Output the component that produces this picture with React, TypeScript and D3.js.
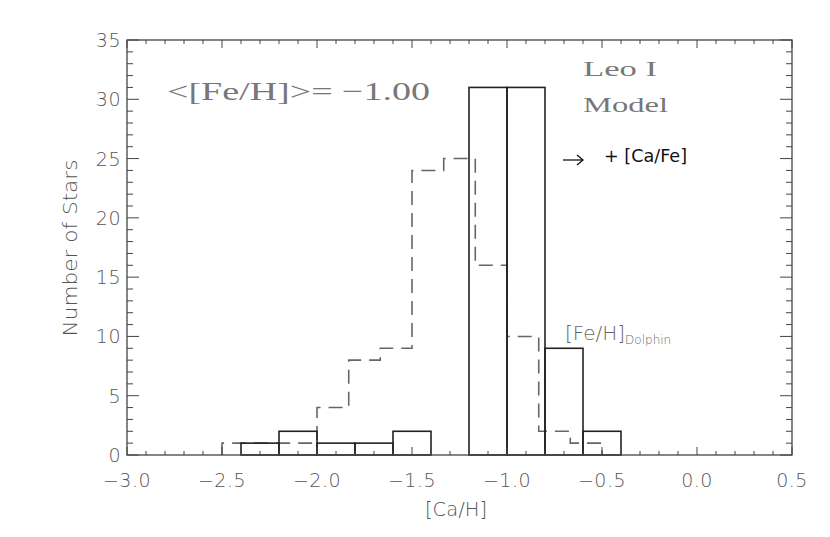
import React, { useEffect } from 'react';
import * as d3 from 'd3';

// solid histogram (model [Ca/H]) — bin edges and counts
const solidEdges = [-3.0, -2.8, -2.6, -2.4, -2.2, -2.0, -1.8, -1.6, -1.4, -1.2, -1.0, -0.8, -0.6, -0.4, -0.2, 0.0];
const solidCounts = [0, 0, 0, 1, 2, 1, 1, 2, 0, 31, 31, 9, 2, 0, 0];

// dashed histogram ([Fe/H] Dolphin)
const dashedEdges = [-2.5, -2.333, -2.167, -2.0, -1.833, -1.667, -1.5, -1.333, -1.167, -1.0, -0.833, -0.667, -0.5];
const dashedCounts = [1, 1, 1, 4, 8, 9, 24, 25, 16, 10, 2, 1];

const xTicks = [-3.0, -2.5, -2.0, -1.5, -1.0, -0.5, 0.0, 0.5];
const yTicks = [0, 5, 10, 15, 20, 25, 30, 35];

const W = 830, H = 537;
const left = 127, right = 792, top = 40, bottom = 455;

const tickFont = '"DejaVu Sans", sans-serif';
const serifFont = '"Liberation Serif", "DejaVu Serif", serif';
const grey = '#555';

export default function App() {
  useEffect(() => {
    document.body.style.margin = '0';
  }, []);

  const x = d3.scaleLinear().domain([-3.0, 0.5]).range([left, right]);
  const y = d3.scaleLinear().domain([0, 35]).range([bottom, top]);

  const xMinor = d3.range(-3.0, 0.5001, 0.1);
  const yMinor = d3.range(0, 35.001, 1);

  // dashed step outline
  const stepPts: [number, number][] = [[dashedEdges[0], 0]];
  dashedCounts.forEach((c, i) => stepPts.push([dashedEdges[i], c]));
  stepPts.push([dashedEdges[dashedEdges.length - 1], dashedCounts[dashedCounts.length - 1]]);
  stepPts.push([dashedEdges[dashedEdges.length - 1], 0]);
  const stepLine = d3.line<[number, number]>()
    .x(d => x(d[0]))
    .y(d => y(d[1]))
    .curve(d3.curveStepAfter);

  return (
    <svg width={W} height={H} style={{ display: 'block', background: '#fff' }}>
      {/* dashed histogram */}
      <path d={stepLine(stepPts) || ''} fill="none" stroke="#666" strokeWidth={1.6} strokeDasharray="14 8" />

      {/* solid bars */}
      {solidCounts.map((c, i) => (
        <rect key={i}
          x={x(solidEdges[i])} y={y(c)}
          width={x(solidEdges[i + 1]) - x(solidEdges[i])}
          height={y(0) - y(c)}
          fill="none" stroke="#222" strokeWidth={1.6} />
      ))}

      {/* frame */}
      <rect x={left} y={top} width={right - left} height={bottom - top} fill="none" stroke="#444" strokeWidth={1.3} />

      {/* x ticks: bottom and top */}
      {xMinor.map((v, i) => {
        const major = Math.abs(v * 2 - Math.round(v * 2)) < 1e-6;
        const len = major ? 8 : 4;
        return (
          <g key={'xt' + i} stroke="#444" strokeWidth={1}>
            <line x1={x(v)} x2={x(v)} y1={bottom} y2={bottom - len} />
            <line x1={x(v)} x2={x(v)} y1={top} y2={top + len} />
          </g>
        );
      })}
      {/* y ticks: left and right */}
      {yMinor.map((v, i) => {
        const major = v % 5 === 0;
        const len = major ? 12 : 6;
        return (
          <g key={'yt' + i} stroke="#444" strokeWidth={1}>
            <line x1={left} x2={left + len} y1={y(v)} y2={y(v)} />
            <line x1={right} x2={right - len} y1={y(v)} y2={y(v)} />
          </g>
        );
      })}

      {/* tick labels */}
      {xTicks.map((v, i) => (
        <text key={'xl' + i} x={x(v)} y={487} textAnchor="middle"
          fontFamily={tickFont} fontWeight={200} fontSize={19} fill={grey} letterSpacing={0.5}>
          {d3.format('.1f')(v).replace('-', '\u2212')}
        </text>
      ))}
      {yTicks.map((v, i) => (
        <text key={'yl' + i} x={left - 6} y={y(v) + 7} textAnchor="end"
          fontFamily={tickFont} fontWeight={200} fontSize={19} fill={grey} letterSpacing={0.5}>
          {v}
        </text>
      ))}

      {/* axis titles */}
      <text x={456} y={516} textAnchor="middle" fontFamily={tickFont} fontWeight={200} fontSize={19} fill={grey}
        textLength={62} lengthAdjust="spacingAndGlyphs">
        [Ca/H]
      </text>
      <text transform={`translate(77,248) rotate(-90)`} textAnchor="middle"
        fontFamily={tickFont} fontWeight={200} fontSize={19} fill={grey}
        textLength={177} lengthAdjust="spacingAndGlyphs">
        Number of Stars
      </text>

      {/* annotations */}
      <text x={167} y={100} fontFamily={serifFont} fontSize={26} fill="#777"
        textLength={263} lengthAdjust="spacingAndGlyphs">
        {'<[Fe/H]>= \u22121.00'}
      </text>
      <text x={583} y={76} fontFamily={serifFont} fontSize={21} fill="#777"
        textLength={74} lengthAdjust="spacingAndGlyphs">
        Leo I
      </text>
      <text x={583} y={112} fontFamily={serifFont} fontSize={21} fill="#777"
        textLength={85} lengthAdjust="spacingAndGlyphs">
        Model
      </text>
      <g stroke="#111" strokeWidth={1.3} fill="none">
        <line x1={563} x2={583} y1={160} y2={160} />
        <polyline points="577,155 583,160 577,165" />
      </g>
      <text x={604} y={162} fontFamily={tickFont} fontSize={17} fill="#111"
        textLength={83} lengthAdjust="spacingAndGlyphs">
        + [Ca/Fe]
      </text>
      <text x={565} y={340} fontFamily={tickFont} fontWeight={200} fontSize={20} fill="#666">
        [Fe/H]
        <tspan fontSize={12} dy={4}>Dolphin</tspan>
      </text>
    </svg>
  );
}
